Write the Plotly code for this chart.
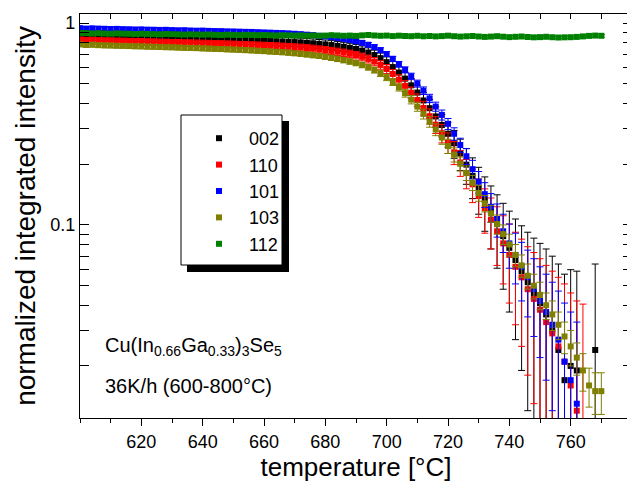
import plotly.graph_objects as go

# ---------------- data ----------------
temperature = [
    600, 602, 604, 606, 608, 610, 612, 614, 616, 618,
    620, 622, 624, 626, 628, 630, 632, 634, 636, 638,
    640, 642, 644, 646, 648, 650, 652, 654, 656, 658,
    660, 662, 664, 666, 668, 670, 672, 674, 676, 678,
    680, 682, 684, 686, 688, 690, 692, 694, 696, 698,
    700, 702, 704, 706, 708, 710, 712, 714, 716, 718,
    720, 722, 724, 726, 728, 730, 732, 734, 736, 738,
    740, 742, 744, 746, 748, 750, 752, 754, 756, 758,
    760, 762, 764, 766, 768, 770,
]

series_names = ["002", "110", "101", "103", "112"]

int_002 = [
    .865, .860, .862, .858, .857, .856, .855, .853, .852, .850,
    .851, .848, .847, .845, .846, .843, .842, .840, .839, .837,
    .836, .834, .833, .831, .830, .828, .827, .825, .823, .821,
    .819, .817, .814, .812, .809, .806, .803, .799, .795, .790,
    .785, .779, .772, .764, .755, .745, .731, .715, .695, .671,
    .641, .606, .569, .531, .492, .453, .414, .379, .345, .313,
    .283, .254, .226, .199, .175, .153, .133, .116, .101, .088,
    .077, .067, .059, .052, .046, .041, .036, .030, .024, .017,
    .020, .019, None, None, .024, None,
]

int_110 = [
    .825, .820, .822, .818, .817, .816, .814, .813, .811, .810,
    .809, .807, .806, .804, .803, .801, .800, .798, .797, .795,
    .794, .792, .790, .789, .787, .785, .783, .781, .779, .777,
    .775, .772, .770, .767, .764, .761, .757, .753, .748, .742,
    .736, .729, .722, .714, .705, .695, .681, .665, .645, .621,
    .593, .560, .525, .489, .452, .416, .380, .346, .314, .285,
    .256, .229, .204, .181, .159, .139, .121, .106, .093, .081,
    .071, .062, .055, .048, .043, .038, .033, .029, .025, .021,
    .016, .012, .0105, None, None, None,
]

int_101 = [
    .945, .940, .943, .940, .938, .936, .937, .934, .933, .931,
    .932, .929, .928, .926, .927, .924, .922, .923, .920, .918,
    .919, .916, .914, .913, .911, .910, .908, .906, .905, .902,
    .900, .898, .895, .893, .890, .886, .882, .877, .872, .866,
    .860, .853, .845, .836, .826, .814, .799, .782, .761, .735,
    .703, .665, .626, .587, .545, .502, .463, .424, .386, .351,
    .317, .283, .249, .219, .189, .164, .142, .123, .107, .093,
    .081, .071, .062, .055, .048, .042, .037, .032, .027, .021,
    .017, .013, None, None, None, None,
]

int_103 = [
    .785, .780, .782, .778, .776, .775, .773, .772, .770, .768,
    .767, .765, .764, .762, .760, .759, .757, .755, .754, .752,
    .750, .748, .746, .744, .742, .740, .738, .735, .733, .730,
    .727, .724, .721, .718, .714, .710, .705, .700, .694, .688,
    .681, .673, .665, .656, .646, .635, .621, .605, .586, .564,
    .539, .511, .481, .450, .418, .386, .355, .325, .297, .271,
    .246, .223, .201, .181, .162, .144, .128, .114, .101, .090,
    .080, .071, .063, .056, .050, .045, .040, .036, .032, .028,
    .025, .022, .019, .016, .015, .015,
]

int_112 = [
    .895, .893, .890, .892, .889, .887, .890, .888, .886, .884,
    .887, .885, .883, .881, .884, .882, .880, .878, .881, .879,
    .877, .879, .876, .874, .877, .875, .873, .876, .874, .872,
    .874, .871, .869, .872, .870, .868, .870, .867, .869, .866,
    .868, .872, .869, .866, .868, .865, .870, .874, .869, .866,
    .868, .863, .867, .864, .862, .866, .861, .864, .860, .863,
    .867, .862, .858, .861, .864, .859, .855, .858, .862, .857,
    .853, .856, .859, .854, .851, .853, .856, .852, .849, .851,
    .852, .855, .860, .865, .868, .866,
]

# absolute uncertainties
err_002 = 0.040
err_110 = 0.030
err_101 = 0.020
err_112 = 0.012
err_103 = [
    .02, .02, .02, .02, .02, .02, .02, .02, .02, .02,
    .02, .02, .02, .02, .02, .02, .02, .02, .02, .02,
    .02, .02, .02, .02, .02, .02, .02, .02, .02, .02,
    .02, .02, .02, .02, .02, .02, .02, .02, .02, .02,
    .02, .02, .02, .02, .02, .02, .02, .02, .02, .02,
    .02, .02, .02, .02, .02, .02, .02, .02, .02, .02,
    .02, .018, .016, .015, .014, .013, .012, .011, .011, .010,
    .010, .009, .008, .008, .007, .007, .006, .006, .005, .005,
    .005, .004, .004, .0035, .0035, .0035,
]

x_ticks = [620, 640, 660, 680, 700, 720, 740, 760]
y_ticks = [0.1, 1]
y_tick_labels = ["0.1", "1"]
y_minor = [0.02, 0.03, 0.04, 0.05, 0.06, 0.07, 0.08, 0.09,
           0.2, 0.3, 0.4, 0.5, 0.6, 0.7, 0.8, 0.9]

# ---------------- styling ----------------
OFF = 8                     # page body margin
W, H = 635 - OFF, 494 - OFF
ML, MR, MT, MB = 80 - OFF, 3, 14 - OFF, 76
PW, PH = W - ML - MR, H - MT - MB
FONT = "Arial, Liberation Sans, sans-serif"


def px_x(x):
    return (x - OFF - ML) / PW


def px_y(y):
    return 1 - (y - OFF - MT) / PH


colors = ["#000000", "#ff0000", "#0000ff", "#808000", "#008000"]
values = [int_002, int_110, int_101, int_103, int_112]
errors = [err_002, err_110, err_101, err_103, err_112]

fig = go.Figure()
for name, vals, err, col in zip(series_names, values, errors, colors):
    if isinstance(err, list):
        ey = dict(type="data", array=err, visible=True)
    else:
        ey = dict(type="constant", value=err, visible=True)
    ey.update(color=col, thickness=1, width=3.5)
    fig.add_trace(go.Scatter(
        x=temperature, y=vals, name=name, mode="markers",
        legendgroup=name,
        marker=dict(symbol="square", size=6, color=col, line=dict(width=0)),
        error_y=ey,
    ))

# dummy trace to anchor the top axis (inward ticks)
fig.add_trace(go.Scatter(x=[None], y=[None], xaxis="x2", yaxis="y",
                         showlegend=False, hoverinfo="skip"))

# legend frame with drop shadow
fig.add_shape(type="rect", xref="paper", yref="paper", layer="above",
              x0=px_x(187), x1=px_x(289), y0=px_y(272), y1=px_y(121),
              fillcolor="black", line=dict(width=0))
fig.add_shape(type="rect", xref="paper", yref="paper", layer="above",
              x0=px_x(181), x1=px_x(282), y0=px_y(265), y1=px_y(115),
              fillcolor="white", line=dict(color="black", width=1))

fig.add_annotation(xref="paper", yref="paper", x=px_x(103), y=px_y(346),
                   xanchor="left", yanchor="middle", showarrow=False,
                   text="Cu(In<sub>0.66</sub>Ga<sub>0.33</sub>)<sub>3</sub>Se<sub>5</sub>",
                   font=dict(family=FONT, size=20, color="black"))
fig.add_annotation(xref="paper", yref="paper", x=px_x(103), y=px_y(386),
                   xanchor="left", yanchor="middle", showarrow=False,
                   text="36K/h (600-800°C)",
                   font=dict(family=FONT, size=20, color="black"))

fig.update_layout(
    width=W, height=H,
    margin=dict(l=ML, r=MR, t=MT, b=MB),
    paper_bgcolor="white", plot_bgcolor="white",
    font=dict(family=FONT, color="black"),
    showlegend=True,
    legend=dict(x=px_x(189), y=px_y(120), xanchor="left", yanchor="top",
                bgcolor="rgba(0,0,0,0)", borderwidth=0,
                font=dict(family=FONT, size=18, color="black"),
                itemwidth=50, tracegroupgap=4, traceorder="normal"),
    xaxis=dict(range=[600, 780], showgrid=False, zeroline=False,
               showline=True, linecolor="black", linewidth=1.3, mirror=True,
               ticks="outside", ticklen=7, tickwidth=1.2, tickcolor="black",
               tickmode="array", tickvals=x_ticks,
               tickfont=dict(family=FONT, size=18, color="black"),
               minor=dict(ticks="outside", ticklen=4, tickwidth=1.2,
                          tickcolor="black", dtick=10, tick0=600, showgrid=False),
               title=dict(text="temperature [°C]", standoff=6,
                          font=dict(family=FONT, size=26, color="black"))),
    xaxis2=dict(range=[600, 780], overlaying="x", side="top", anchor="y",
                showgrid=False, zeroline=False, showline=False,
                ticks="inside", ticklen=5, tickwidth=1.2, tickcolor="black",
                tickmode="linear", tick0=610, dtick=10, showticklabels=False),
    yaxis=dict(type="log", range=[-1.957, 0.0455], showgrid=False, zeroline=False,
               showline=True, linecolor="black", linewidth=1.3, mirror="allticks",
               ticks="inside", ticklen=9, tickwidth=1.2, tickcolor="black",
               tickmode="array", tickvals=y_ticks, ticktext=y_tick_labels,
               tickfont=dict(family=FONT, size=18, color="black"),
               minor=dict(ticks="inside", ticklen=5, tickwidth=1.2,
                          tickcolor="black", tickmode="array", tickvals=y_minor,
                          showgrid=False),
               title=dict(text="normalized integrated intensity", standoff=6,
                          font=dict(family=FONT, size=28, color="black"))),
)

fig.write_html("out.html")
